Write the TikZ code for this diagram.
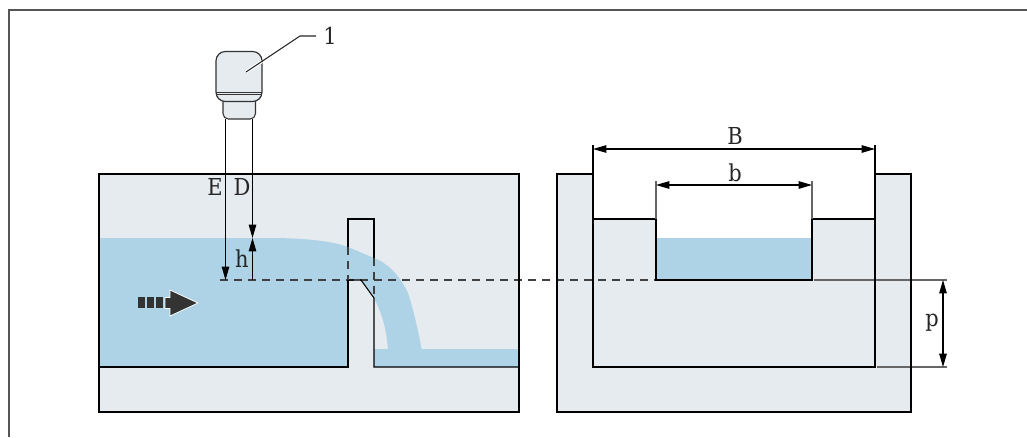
\documentclass[tikz,border=0pt]{standalone}
\usepackage{fontspec}
\setmainfont{DejaVu Serif Condensed}
\usetikzlibrary{arrows.meta}
\definecolor{wallgray}{HTML}{E6EBEF}
\definecolor{waterblue}{HTML}{AED3E6}
\definecolor{framegray}{HTML}{555555}
\definecolor{darkarrow}{HTML}{333333}
\tikzset{
  outline/.style={black,line width=.8pt},
  extline/.style={black!60,line width=.8pt},
  dimline/.style={black,line width=.8pt,{Triangle[length=10pt,width=5.6pt]}-{Triangle[length=10pt,width=5.6pt]}},
  oneway/.style={black,line width=.8pt,-{Triangle[length=10pt,width=5.6pt]}},
  level/.style={black!75,line width=.8pt,dash pattern=on 6pt off 4.5pt},
  lbl/.style={inner sep=0pt,font=\fontsize{17.5}{19}\selectfont,text=black!85}
}

\begin{document}
\begin{tikzpicture}[x=.75pt,y=-.75pt]
    \useasboundingbox (0,0) rectangle (1027,437);
    % Draw the outer frame
    \draw[framegray,line width=1.5pt] (8.5,437) -- (8.5,10) -- (1027,10);
    % Draw the two walls
    \fill[wallgray] (99,174) rectangle (519,412);
    \fill[wallgray] (557,174) rectangle (911,412);
    \fill[white] (593,174) rectangle (875,219);
    \fill[white] (656,219) rectangle (812,280);
    % Draw the water
    \fill[waterblue] (99,238) -- (270,238) .. controls (310,238) and (335,242) .. (348,247)
      -- (374,258) .. controls (385,262) and (398,272) .. (408,293)
      .. controls (413,308) and (418,330) .. (421.6,349) -- (519,349) -- (519,367) -- (374,367)
      -- (374,349) -- (388,349) .. controls (386,330) and (384,318) .. (374,298)
      -- (361,280) -- (348,280) -- (348,367) -- (99,367) -- cycle;
    \fill[waterblue] (656,238) rectangle (812,280);
    % Draw the level line
    \draw[level] (220,280) -- (695,280);
    \draw[extline] (814,280) -- (947,280);
    \draw[extline] (877,367) -- (947,367);
    % Draw the left tank and the weir
    \draw[outline] (99,174) rectangle (519,412);
    \draw[outline] (99,367) -- (348,367) -- (348,280);
    \draw[outline] (348,247) -- (348,219) -- (374,219) -- (374,258);
    \draw[outline] (348,280) -- (361,280) -- (374,298) -- (374,367) -- (519,367);
    \foreach \x/\y/\z in {348/247/280, 374/258/298}{
      \draw[level] (\x,\y) -- (\x,\z);
    }
    % Draw the right section
    \draw[outline] (593,174) -- (557,174) -- (557,412) -- (911,412) -- (911,174) -- (875,174);
    \draw[outline] (593,145) -- (593,367) -- (875,367) -- (875,145);
    \draw[outline] (593,219) -- (656,219) -- (656,280) -- (812,280) -- (812,219) -- (875,219);
    \draw[extline] (656,181) -- (656,219);
    \draw[extline] (812,181) -- (812,219);
    % Draw the sensor
    \draw[black!80,fill=wallgray,line width=.8pt,rounded corners=4pt] (223,95) rectangle (255.5,119);
    \draw[black!80,fill=wallgray,line width=.9pt,rounded corners=7pt] (216,51.5) rectangle (262,101.5);
    \foreach \y in {92,94.5}{
      \draw[black!80,line width=.7pt] (216,\y) -- (262,\y);
    }
    \coordinate (pipeE) at (225.5,119);
    \coordinate (pipeD) at (252.5,119);
    \coordinate (levelE) at (225.5,280);
    \coordinate (levelD) at (252.5,280);
    \coordinate (surfD) at (252.5,238);
    \draw[white,line width=2.4pt] (246,72) -- (262,61.5);
    \coordinate (leadtip) at (246,72);
    \coordinate (leadknee) at (300,36);
    \coordinate (leadend) at (316,36);
    \draw[black!85,line width=.8pt] (leadtip) -- (leadknee) -- (leadend);
    % Draw the dimensions
    \draw[oneway] (pipeE) -- (levelE);
    \draw[oneway] (pipeD) -- (surfD);
    \draw[oneway] (levelD) -- (surfD);
    \coordinate (Bleft) at (593,149);
    \coordinate (Bright) at (875,149);
    \coordinate (bleft) at (656,185);
    \coordinate (bright) at (812,185);
    \coordinate (ptop) at (943,280);
    \coordinate (pbot) at (943,367);
    \draw[dimline] (Bleft) -- (Bright);
    \draw[dimline] (bleft) -- (bright);
    \draw[dimline] (ptop) -- (pbot);
    % Draw the flow arrow
    \foreach \x in {138,147,156}{
      \fill[darkarrow] (\x,297) rectangle ++(6.5,11);
    }
    \draw[white,fill=darkarrow,line width=.6pt] (165,297.5) -- (170,297.5) -- (170,290) -- (198,303)
      -- (170,316) -- (170,308.5) -- (165,308.5) -- cycle;
    % Put the labels
    \node[lbl] (numone) at (330,36) {1};
    \node[lbl] (labE) at (215,187) {E};
    \node[lbl] (labD) at (242,187) {D};
    \node[lbl] (labh) at (242,259) {h};
    \node[lbl] (labB) at (735,136) {B};
    \node[lbl] (labb) at (735,173) {b};
    \node[lbl] (labp) at (932,323) {p};
\end{tikzpicture}
\end{document}
